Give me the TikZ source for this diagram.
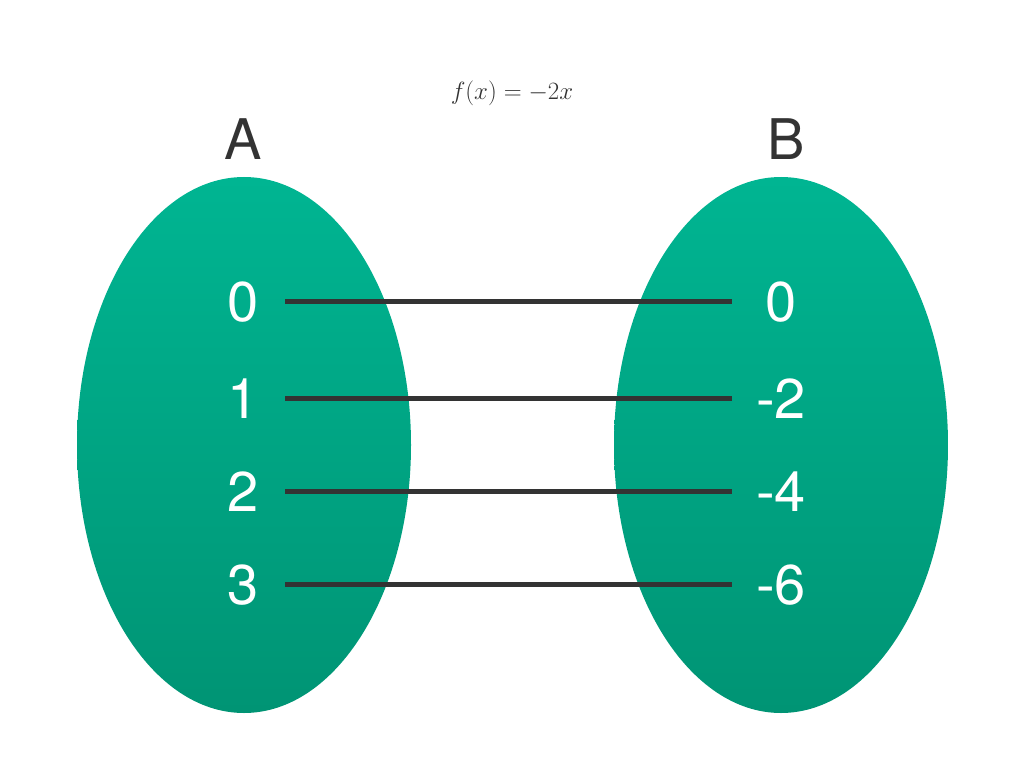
\documentclass[tikz,border=0pt]{standalone}
\usepackage{fontspec}
\setsansfont{TeX Gyre Heros}
\definecolor{gtop}{HTML}{00B592}
\definecolor{gbot}{HTML}{009474}
\definecolor{ink}{HTML}{333333}
\begin{document}
\begin{tikzpicture}[x=1pt,y=-1pt,
  blob/.style={top color=gtop,bottom color=gbot,draw=none},
  num/.style={text=white,font=\sffamily\fontsize{56}{60}\selectfont,anchor=base},
  setname/.style={text=ink,font=\sffamily\fontsize{56}{60}\selectfont,anchor=base},
  map/.style={ink,line width=5pt}]
\useasboundingbox (0,0) rectangle (1023,781);
\shade[blob] (244,445) ellipse [x radius=167,y radius=268];
\shade[blob] (781,445) ellipse [x radius=167,y radius=268];
\node[text=ink,font=\fontsize{46}{50}\selectfont] (t) at (512,93) {$f(x) = -2x$};
\node[setname] (A) at (243,160) {A};
\node[setname] (B) at (786,160) {B};
\foreach \y/\a/\b [count=\i] in {301/0/0,398/1/-2,491/2/-4,584/3/-6}{
  \node[num] (l\i) at (243,\y+20) {\a};
  \node[num] (r\i) at (781,\y+20) {\b};
  \coordinate (ls\i) at (285,\y);
  \coordinate (re\i) at (732,\y);
  \draw[map] (ls\i) -- (re\i);
}
\end{tikzpicture}
\end{document}
